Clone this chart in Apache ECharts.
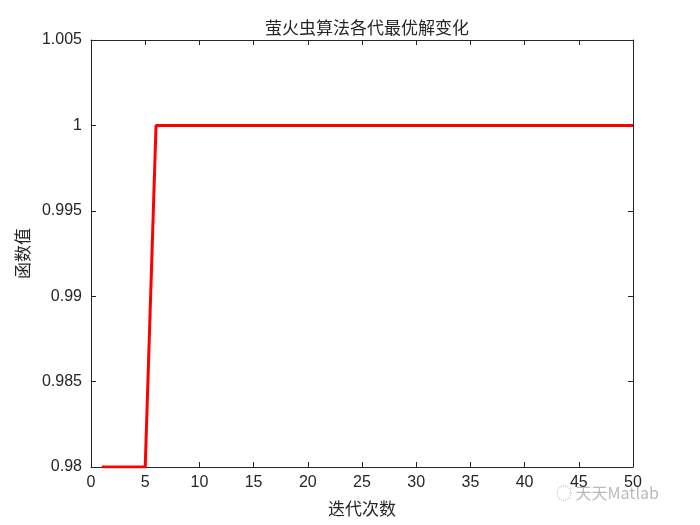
<!DOCTYPE html>
<html><head><meta charset="utf-8">
<script src="https://cdn.jsdelivr.net/npm/echarts@6/dist/echarts.min.js"></script>
<style>html,body{margin:0;padding:0;background:#fff}#c{width:700px;height:525px}</style>
</head><body><div id="c"></div>
<script>
const iterations = [1,2,3,4,5,6,7,8,9,10,11,12,13,14,15,16,17,18,19,20,21,22,23,24,25,26,27,28,29,30,31,32,33,34,35,36,37,38,39,40,41,42,43,44,45,46,47,48,49,50];
const bestValues = [0.98,0.98,0.98,0.98,0.98,1,1,1,1,1,1,1,1,1,1,1,1,1,1,1,1,1,1,1,1,1,1,1,1,1,1,1,1,1,1,1,1,1,1,1,1,1,1,1,1,1,1,1,1,1];
const titleText = '萤火虫算法各代最优解变化';
const xName = '迭代次数';
const yName = '函数值';
const yTickLabels = ['0.98','0.985','0.99','0.995','1','1.005'];

const chart = echarts.init(document.getElementById('c'));
const axisCol = '#262626';
const lab = {color: axisCol, fontFamily: 'Liberation Sans, Arial, sans-serif', fontSize: 16};
const baseX = {type:'value', min:0, max:50, interval:5,
  axisLine:{show:true, onZero:false, lineStyle:{color:axisCol, width:1}},
  axisTick:{show:true, inside:true, length:5, lineStyle:{color:axisCol}},
  splitLine:{show:false}};
const baseY = {type:'value', min:0.98, max:1.005, interval:0.005,
  axisLine:{show:true, onZero:false, lineStyle:{color:axisCol, width:1}},
  axisTick:{show:true, inside:true, length:5, lineStyle:{color:axisCol}},
  splitLine:{show:false}};
chart.setOption({
  animation:false,
  backgroundColor:'#fff',
  title:{text:titleText, left:362, top:14, textAlign:'center',
    textStyle:{fontFamily:'Noto Sans CJK SC', fontSize:17, fontWeight:'normal', color:axisCol}},
  grid:{left:91, right:67, top:40, bottom:58},
  xAxis:[
    Object.assign({}, baseX, {position:'bottom', name:xName, nameLocation:'middle', nameGap:33,
      nameTextStyle:{fontFamily:'Noto Sans CJK SC', fontSize:17, color:axisCol},
      axisLabel:Object.assign({margin:8}, lab)}),
    Object.assign({}, baseX, {position:'top', axisLabel:{show:false}})
  ],
  yAxis:[
    Object.assign({}, baseY, {position:'left', name:yName, nameLocation:'middle', nameGap:53,
      nameTextStyle:{fontFamily:'Noto Sans CJK SC', fontSize:17, color:axisCol},
      axisLabel:Object.assign({margin:9, formatter:(v,i)=>yTickLabels[i]}, lab)}),
    Object.assign({}, baseY, {position:'right', axisLabel:{show:false}})
  ],
  graphic:[{type:'text', left:556, top:485, style:{text:'◌ 天天Matlab', fill:'#bbbbbb',
    font:'16px "Noto Sans CJK SC"'}}],
  series:[{type:'line', data:iterations.map((x,i)=>[x,bestValues[i]]), xAxisIndex:0, yAxisIndex:0,
    showSymbol:false, symbol:'none', lineStyle:{color:'#ff0000', width:3}, itemStyle:{color:'#ff0000'}}]
});
</script></body></html>
